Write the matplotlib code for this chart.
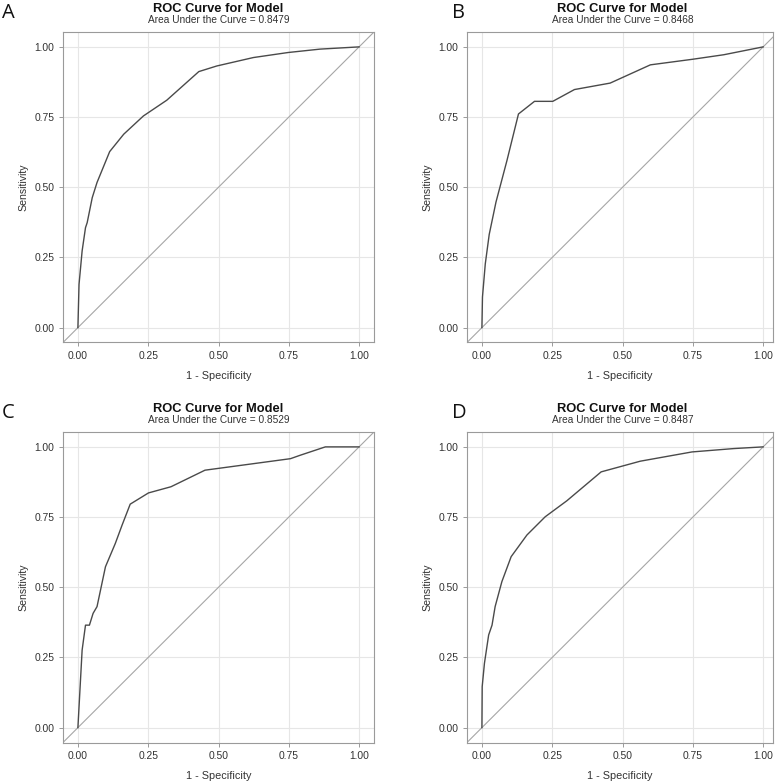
import matplotlib
matplotlib.use("Agg")
import matplotlib.pyplot as plt

plt.rcParams['font.family'] = ['Liberation Sans', 'DejaVu Sans']

# ROC points (1 - specificity, sensitivity)
fpr_a = [0, 0.004, 0.015, 0.027, 0.033, 0.051, 0.068, 0.113, 0.163, 0.233, 0.316, 0.430,
         0.494, 0.624, 0.748, 0.861, 1.0]
tpr_a = [0, 0.154, 0.273, 0.356, 0.374, 0.463, 0.517, 0.627, 0.689, 0.754, 0.810, 0.912,
         0.932, 0.962, 0.980, 0.992, 1.0]

fpr_b = [0, 0.002, 0.012, 0.026, 0.050, 0.089, 0.130, 0.187, 0.252, 0.329, 0.456, 0.599,
         0.750, 0.860, 1.0]
tpr_b = [0, 0.109, 0.227, 0.332, 0.447, 0.595, 0.761, 0.806, 0.806, 0.848, 0.871, 0.936,
         0.956, 0.972, 1.0]

fpr_c = [0, 0.015, 0.027, 0.041, 0.054, 0.068, 0.098, 0.133, 0.157, 0.186, 0.251, 0.331,
         0.452, 0.682, 0.756, 0.790, 0.880, 1.0]
tpr_c = [0, 0.276, 0.365, 0.365, 0.407, 0.431, 0.573, 0.656, 0.721, 0.796, 0.836, 0.858,
         0.917, 0.948, 0.958, 0.970, 1.0, 1.0]

fpr_d = [0, 0.001, 0.009, 0.024, 0.036, 0.047, 0.071, 0.104, 0.160, 0.225, 0.302, 0.424,
         0.563, 0.747, 0.896, 1.0]
tpr_d = [0, 0.146, 0.229, 0.330, 0.365, 0.431, 0.520, 0.609, 0.686, 0.751, 0.808, 0.911,
         0.949, 0.982, 0.994, 1.0]

panels = ["A", "B", "C", "D"]
auc = ["0.8479", "0.8468", "0.8529", "0.8487"]
curves = [(fpr_a, tpr_a), (fpr_b, tpr_b), (fpr_c, tpr_c), (fpr_d, tpr_d)]
ticks = [0, 0.25, 0.5, 0.75, 1.0]
tick_labels = ["0.00", "0.25", "0.50", "0.75", "1.00"]

W, H = 780, 784
fig = plt.figure(figsize=(W / 100, H / 100), dpi=100)

# axes boxes in pixels: left, top, right, bottom
boxes = [(63, 32, 374, 342.5), (467, 32, 773, 342.5),
         (63, 432, 374, 742.5), (467, 432, 773, 742.5)]
xlims = [(-0.053, 1.053), (-0.053, 1.035), (-0.053, 1.053), (-0.053, 1.035)]

for i, (l, t, r, b) in enumerate(boxes):
    ax = fig.add_axes([l / W, 1 - b / H, (r - l) / W, (b - t) / H])
    fpr, tpr = curves[i]
    ax.plot([-0.1, 1.1], [-0.1, 1.1], color="#a6a6a6", lw=0.8, zorder=2)
    ax.plot(fpr, tpr, color="#4a4a4a", lw=1.0, zorder=3)
    ax.set_xlim(*xlims[i])
    ax.set_ylim(-0.053, 1.053)
    ax.set_xticks(ticks)
    ax.set_yticks(ticks)
    ax.set_xticklabels(tick_labels)
    ax.set_yticklabels(tick_labels)
    ax.grid(True, color="#e6e6e6", lw=0.8, zorder=0)
    ax.set_axisbelow(True)
    for s in ax.spines.values():
        s.set_color("#9a9a9a")
        s.set_linewidth(0.8)
    ax.tick_params(length=3.2, width=0.7, color="#9a9a9a", labelsize=7.4,
                   labelcolor="#333333", pad=3)
    ax.set_xlabel("1 - Specificity", fontsize=7.8, color="#333333", labelpad=7)
    ax.set_ylabel("Sensitivity", fontsize=7.6, color="#333333", labelpad=4)

    cx = (0.5 - xlims[i][0]) / (xlims[i][1] - xlims[i][0])
    ax.annotate("ROC Curve for Model", xy=(cx, 1), xycoords="axes fraction",
                xytext=(0, 14.5), textcoords="offset points", ha="center",
                va="baseline", fontsize=9.3, fontweight="bold", color="#111111")
    ax.annotate("Area Under the Curve = " + auc[i], xy=(cx, 1), xycoords="axes fraction",
                xytext=(0, 6.8), textcoords="offset points", ha="center",
                va="baseline", fontsize=7.3, color="#333333")

    lx = 2 if l < 100 else 452
    fig.text(lx / W, 1 - (t - 14) / H, panels[i], fontsize=14.5,
             family=["Open Sans", "DejaVu Sans"], color="#111111", va="baseline")

fig.savefig("out.png", dpi=100)
